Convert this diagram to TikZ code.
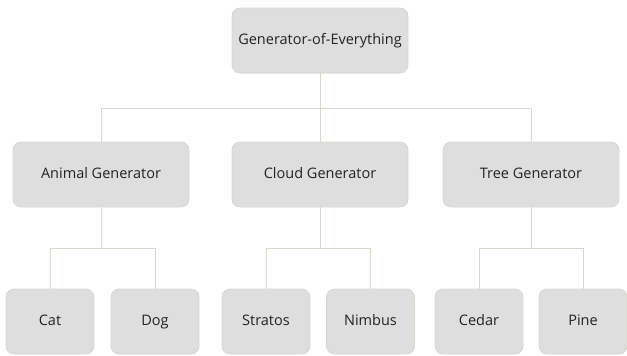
\documentclass[tikz,border=0pt]{standalone}
\usepackage{fontspec}
\setmainfont{Open Sans}
\usepackage{tikz}
\usetikzlibrary{arrows}
\definecolor{boxfill}{HTML}{DEDEDE}
\definecolor{boxline}{HTML}{D6D6CC}
\definecolor{wire}{HTML}{DAD8CC}
\definecolor{ink}{HTML}{222222}

\begin{document}
\begin{tikzpicture}[x=1pt, y=-1pt,
  every node/.style={draw=boxline, fill=boxfill, line width=0.7pt, rounded corners=8pt,
    text=ink, font=\fontsize{14.5}{16}\selectfont, inner sep=0pt, align=center,
    text height=0.9em, text depth=0.05em},
  genbox/.style={minimum width=176pt, minimum height=65pt},
  leafbox/.style={minimum width=88pt, minimum height=65pt},
  wire/.style={draw=wire, line width=0.9pt}]
\useasboundingbox (0,0) rectangle (627,356);
\node[genbox] (all) at (320,40.5) {Generator-of-Everything};
\node[genbox] (animal) at (101,174.5) {Animal Generator};
\node[genbox] (cloud) at (320,174.5) {Cloud Generator};
\node[genbox] (tree) at (531,174.5) {Tree Generator};
\node[leafbox] (cat) at (50,321.5) {Cat};
\node[leafbox] (dog) at (155,321.5) {Dog};
\node[leafbox] (stratos) at (266,321.5) {Stratos};
\node[leafbox] (nimbus) at (370.5,321.5) {Nimbus};
\node[leafbox] (cedar) at (479,321.5) {Cedar};
\node[leafbox] (pine) at (583,321.5) {Pine};

\draw[wire] (all.south) -- (cloud.north);
\draw[wire] (all.south) ++(0,35) -| (animal.north);
\draw[wire] (all.south) ++(0,35) -| (tree.north);
\draw[wire] (animal.south) ++(0,41) -| (cat.north);
\draw[wire] (animal.south) -- ++(0,41) -| (dog.north);
\draw[wire] (cloud.south) ++(0,41) -| (stratos.north);
\draw[wire] (cloud.south) -- ++(0,41) -| (nimbus.north);
\draw[wire] (tree.south) ++(0,41) -| (cedar.north);
\draw[wire] (tree.south) -- ++(0,41) -| (pine.north);
\end{tikzpicture}
\end{document}
